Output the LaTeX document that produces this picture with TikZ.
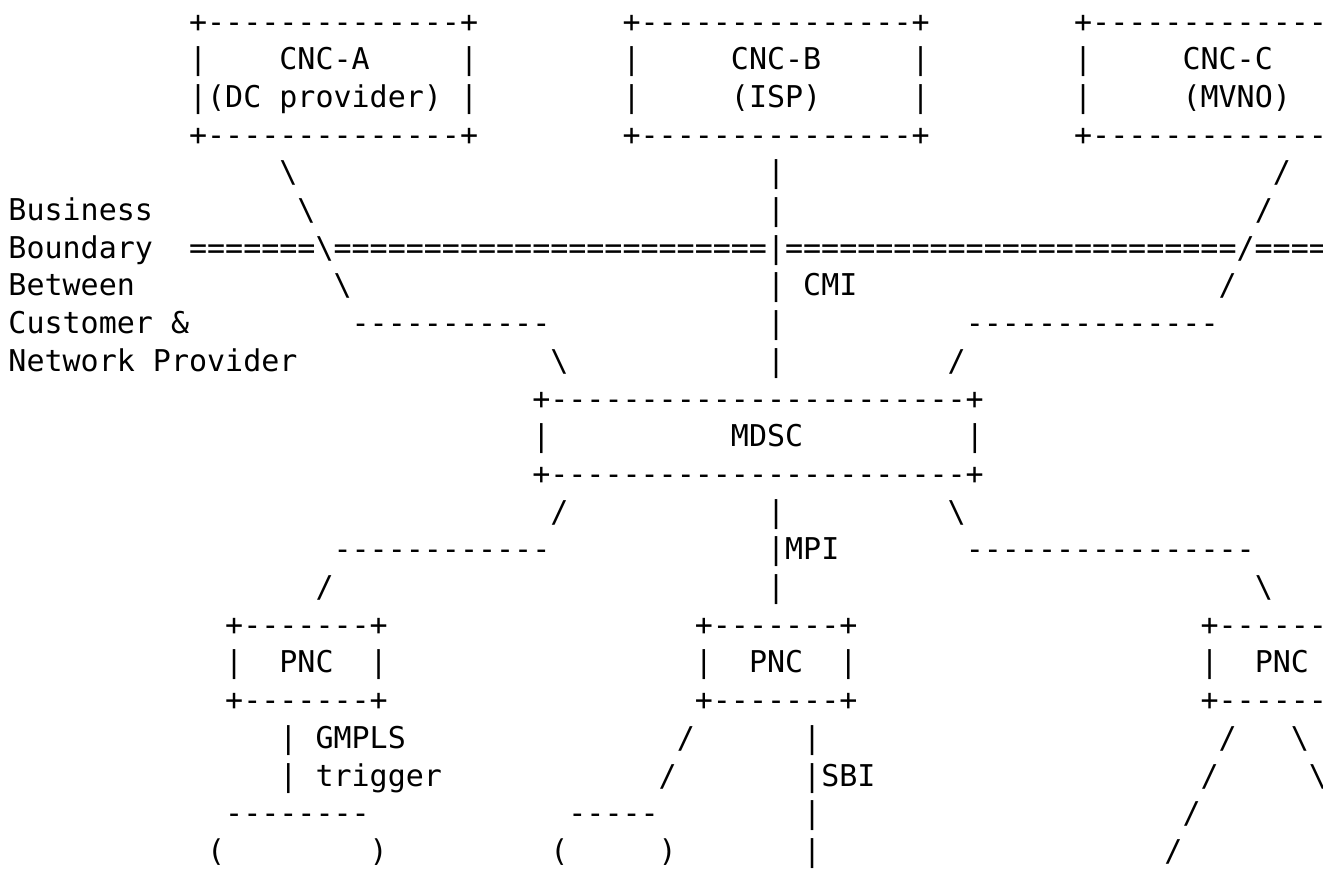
\documentclass[tikz,border=0pt]{standalone}
\usepackage{fontspec}
\setmonofont{DejaVu Sans Mono}
\usepackage{tikz}
\ExplSyntaxOn
\NewDocumentCommand\rep{mm}{\prg_replicate:nn{#1}{#2}}
\ExplSyntaxOff

\begin{document}
\begin{tikzpicture}[x=9.0308pt,y=-18.85pt,
  ascii/.style={anchor=base west,inner sep=0pt,outer sep=0pt,
    font=\ttfamily\fontsize{15pt}{18.85pt}\selectfont}]
\useasboundingbox (-4.25pt,16pt) rectangle (657.25pt,-418.5pt);
\clip (-4.25pt,16pt) rectangle (657.25pt,-418.5pt);
% customer network controllers
\node[ascii] (cncAtop) at (10,0) {+\rep{14}{-}+};
\node[ascii] (cncBtop) at (34,0) {+\rep{15}{-}+};
\node[ascii] (cncCtop) at (59,0) {+\rep{15}{-}};
\node[ascii] (cncAl1) at (10,1) {|};
\node[ascii] (cncA) at (15,1) {CNC-A};
\node[ascii] (cncAr1) at (25,1) {|};
\node[ascii] (cncBl1) at (34,1) {|};
\node[ascii] (cncB) at (40,1) {CNC-B};
\node[ascii] (cncBr1) at (50,1) {|};
\node[ascii] (cncCl1) at (59,1) {|};
\node[ascii] (cncC) at (65,1) {CNC-C};
\node[ascii] (cncAl2) at (10,2) {|};
\node[ascii] (cncArole) at (11,2) {(DC provider)};
\node[ascii] (cncAr2) at (25,2) {|};
\node[ascii] (cncBl2) at (34,2) {|};
\node[ascii] (cncBrole) at (40,2) {(ISP)};
\node[ascii] (cncBr2) at (50,2) {|};
\node[ascii] (cncCl2) at (59,2) {|};
\node[ascii] (cncCrole) at (65,2) {(MVNO)};
\node[ascii] (cncAbot) at (10,3) {+\rep{14}{-}+};
\node[ascii] (cncBbot) at (34,3) {+\rep{15}{-}+};
\node[ascii] (cncCbot) at (59,3) {+\rep{15}{-}};
% CMI links and business boundary
\node[ascii] (cmiA1) at (15,4) {\textbackslash};
\node[ascii] (cmiB1) at (42,4) {|};
\node[ascii] (cmiC1) at (70,4) {/};
\node[ascii] (business) at (0,5) {Business};
\node[ascii] (cmiA2) at (16,5) {\textbackslash};
\node[ascii] (cmiB2) at (42,5) {|};
\node[ascii] (cmiC2) at (69,5) {/};
\node[ascii] (boundary) at (0,6) {Boundary};
\node[ascii] (border) at (10,6) {\rep{7}{=}\textbackslash\rep{24}{=}|\rep{25}{=}/\rep{6}{=}};
\node[ascii] (between) at (0,7) {Between};
\node[ascii] (cmiA3) at (18,7) {\textbackslash};
\node[ascii] (cmiB3) at (42,7) {|};
\node[ascii] (cmi) at (44,7) {CMI};
\node[ascii] (cmiC3) at (67,7) {/};
\node[ascii] (customer) at (0,8) {Customer \&};
\node[ascii] (cmiA4) at (19,8) {\rep{11}{-}};
\node[ascii] (cmiB4) at (42,8) {|};
\node[ascii] (cmiC4) at (53,8) {\rep{14}{-}};
\node[ascii] (provider) at (0,9) {Network Provider};
\node[ascii] (cmiA5) at (30,9) {\textbackslash};
\node[ascii] (cmiB5) at (42,9) {|};
\node[ascii] (cmiC5) at (52,9) {/};
% MDSC
\node[ascii] (mdsctop) at (29,10) {+\rep{23}{-}+};
\node[ascii] (mdscl) at (29,11) {|};
\node[ascii] (mdsc) at (40,11) {MDSC};
\node[ascii] (mdscr) at (53,11) {|};
\node[ascii] (mdscbot) at (29,12) {+\rep{23}{-}+};
% MPI links
\node[ascii] (mpiA1) at (30,13) {/};
\node[ascii] (mpiB1) at (42,13) {|};
\node[ascii] (mpiC1) at (52,13) {\textbackslash};
\node[ascii] (mpiA2) at (18,14) {\rep{12}{-}};
\node[ascii] (mpiB2) at (42,14) {|};
\node[ascii] (mpi) at (43,14) {MPI};
\node[ascii] (mpiC2) at (53,14) {\rep{16}{-}};
\node[ascii] (mpiA3) at (17,15) {/};
\node[ascii] (mpiB3) at (42,15) {|};
\node[ascii] (mpiC3) at (69,15) {\textbackslash};
% PNCs
\node[ascii] (pncAtop) at (12,16) {+\rep{7}{-}+};
\node[ascii] (pncBtop) at (38,16) {+\rep{7}{-}+};
\node[ascii] (pncCtop) at (66,16) {+\rep{8}{-}};
\node[ascii] (pncAl) at (12,17) {|};
\node[ascii] (pncA) at (15,17) {PNC};
\node[ascii] (pncAr) at (20,17) {|};
\node[ascii] (pncBl) at (38,17) {|};
\node[ascii] (pncB) at (41,17) {PNC};
\node[ascii] (pncBr) at (46,17) {|};
\node[ascii] (pncCl) at (66,17) {|};
\node[ascii] (pncC) at (69,17) {PNC};
\node[ascii] (pncAbot) at (12,18) {+\rep{7}{-}+};
\node[ascii] (pncBbot) at (38,18) {+\rep{7}{-}+};
\node[ascii] (pncCbot) at (66,18) {+\rep{8}{-}};
% southbound side
\node[ascii] (sbA1) at (15,19) {|};
\node[ascii] (gmpls) at (17,19) {GMPLS};
\node[ascii] (sbB1) at (37,19) {/};
\node[ascii] (sbi1) at (44,19) {|};
\node[ascii] (sbC1) at (67,19) {/};
\node[ascii] (sbD1) at (71,19) {\textbackslash};
\node[ascii] (sbA2) at (15,20) {|};
\node[ascii] (trigger) at (17,20) {trigger};
\node[ascii] (sbB2) at (36,20) {/};
\node[ascii] (sbi2) at (44,20) {|};
\node[ascii] (sbi) at (45,20) {SBI};
\node[ascii] (sbC2) at (66,20) {/};
\node[ascii] (sbD2) at (72,20) {\textbackslash};
\node[ascii] (netAtop) at (12,21) {\rep{8}{-}};
\node[ascii] (netBtop) at (31,21) {\rep{5}{-}};
\node[ascii] (sbi3) at (44,21) {|};
\node[ascii] (sbC3) at (65,21) {/};
\node[ascii] (netAl) at (11,22) {(};
\node[ascii] (netAr) at (20,22) {)};
\node[ascii] (netBl) at (30,22) {(};
\node[ascii] (netBr) at (36,22) {)};
\node[ascii] (sbi4) at (44,22) {|};
\node[ascii] (sbC4) at (64,22) {/};
\end{tikzpicture}
\end{document}
